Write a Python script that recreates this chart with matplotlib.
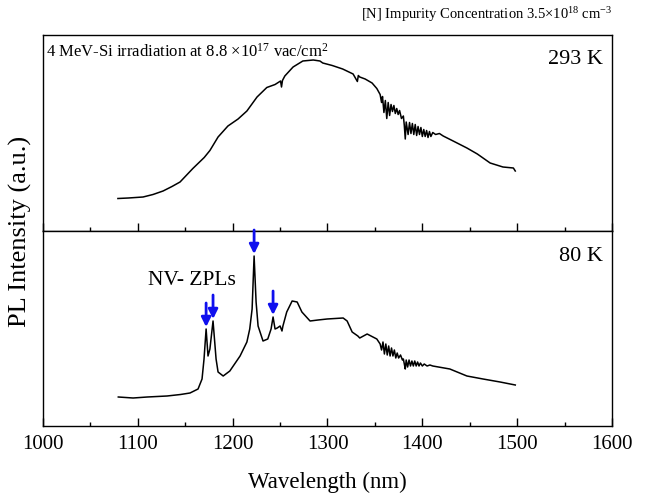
import matplotlib
matplotlib.use("Agg")
import matplotlib.pyplot as plt
from matplotlib.ticker import MultipleLocator

plt.rcParams['font.family'] = ['Liberation Serif', 'DejaVu Serif']
plt.rcParams['mathtext.fontset'] = 'custom'
plt.rcParams['mathtext.rm'] = 'Liberation Serif'
plt.rcParams['mathtext.it'] = 'Liberation Serif:italic'

# ---- 293 K spectrum (top panel) ----
wl_293 = [1079, 1090, 1105.5, 1116, 1126.6, 1136, 1144.5, 1151, 1158, 1164, 1170, 1176, 1184.6,
          1195, 1205.7, 1215, 1225.7, 1236, 1244.7, 1250.5, 1251.5, 1252.5, 1255, 1263.7, 1274, 1285,
          1292, 1295, 1305, 1316, 1327, 1331.5, 1332.5, 1334, 1339.7, 1347, 1352,
          1355.5, 1357, 1358, 1359.5, 1361, 1362.5, 1364, 1365.5, 1367, 1368.5, 1370,
          1371.5, 1373, 1374.5, 1376, 1378, 1380, 1381, 1382, 1383, 1385, 1386.5, 1388,
          1389.5, 1391, 1392.5, 1394, 1395.5, 1397, 1398.5, 1400, 1401.5, 1403, 1404.5,
          1406, 1407.5, 1409, 1411, 1414, 1418, 1422, 1432.5, 1447, 1458, 1471.5, 1485,
          1496, 1497, 1498]
int_293 = [32, 32.5, 33.5, 36, 39.5, 44, 48.5, 55, 62, 67.5, 73, 80, 93.5,
           104.5, 111.5, 119.5, 133.5, 143, 146, 149.5, 143.5, 150, 154.5, 163.5, 169.5, 170.5,
           169.5, 167.5, 165, 161.5, 156.5, 149, 155, 153.5, 151.5, 147.5, 142,
           136, 128, 134, 118, 130, 112, 128, 115, 126, 119, 125,
           117, 122, 116, 120, 112, 114.5, 105, 91.5, 108.5, 96, 108, 97,
           107, 96, 106, 95, 104, 96, 103, 94, 101, 94, 100,
           93, 99, 94, 98, 96, 97, 94.5, 89.5, 82.5, 76.5, 67.5, 63.5,
           62.5, 61, 59.5]

# ---- 80 K spectrum (bottom panel) ----
wl_80 = [1079.4, 1095, 1110, 1130.8, 1145, 1155, 1163.5, 1167.7, 1169.8, 1172, 1174, 1176,
         1179.3, 1182.5, 1184.6, 1190, 1197, 1207.8, 1215, 1218, 1220.5, 1222.6, 1224.7,
         1226.8, 1232, 1237, 1240.5, 1242.6, 1244.7, 1247, 1250, 1252, 1253, 1257, 1262.7,
         1268, 1273, 1281.6, 1290, 1299.6, 1308, 1316.5, 1320.7, 1326, 1332, 1334, 1341.8,
         1352, 1355.5, 1357, 1358.5, 1360, 1361.5, 1363, 1364.5, 1366, 1367.5, 1369,
         1370.5, 1372, 1373.5, 1375, 1377, 1379, 1380, 1381, 1382, 1383, 1384.5, 1386,
         1387.5, 1389, 1390.5, 1392, 1393.5, 1395, 1396.5, 1398, 1400, 1402, 1405, 1408,
         1411, 1429, 1447, 1464, 1482, 1498]
int_80 = [29, 28, 29, 30, 31.5, 33, 37, 47, 67, 97, 70, 77,
          105, 67, 54, 50, 55, 70, 84, 97, 117, 170, 124,
          100, 85, 87, 97, 109, 97, 98, 100, 95, 100, 114, 125,
          124, 114, 105, 106, 107, 107.5, 108, 105, 94, 90, 88, 92,
          87, 82, 76, 84, 72, 82, 71, 80, 70, 78, 70,
          76, 68, 73, 68, 71, 66, 67, 62, 57, 66, 59, 66,
          60, 65, 60, 65, 60, 64, 60, 63, 60, 62, 60, 61,
          60, 57, 50, 47, 44, 41]

# NV- zero-phonon line positions (arrows)
zpl_wl = [1172, 1179.3, 1222.6, 1242.6]
zpl_peak = [97, 105, 170, 109]

x_major = [1000, 1100, 1200, 1300, 1400, 1500, 1600]

fig = plt.figure(figsize=(6.45, 5.02), dpi=100)
L, W = 43 / 645, (612 - 43) / 645
H = (231.5 - 36) / 502
ax_top = fig.add_axes([L, 1 - 231.5 / 502, W, H])
ax_bot = fig.add_axes([L, 1 - 427 / 502, W, H])

for ax in (ax_top, ax_bot):
    ax.set_xlim(1000, 1600)
    ax.set_ylim(0, 195.5)
    ax.set_yticks([])
    ax.xaxis.set_minor_locator(MultipleLocator(50))
    ax.set_xticks(x_major)
    ax.tick_params(axis='x', which='major', direction='in', length=6, width=1.0,
                   top=False, bottom=True)
    ax.tick_params(axis='x', which='minor', direction='in', length=3, width=1.0,
                   top=False, bottom=True)
    for s in ax.spines.values():
        s.set_linewidth(1.0)

ax_top.tick_params(axis='x', which='both', labelbottom=False)
ax_bot.tick_params(axis='x', labelsize=15, pad=6)

ax_top.plot(wl_293, int_293, color='black', lw=1.1)
ax_bot.plot(wl_80, int_80, color='black', lw=1.1)

for w, p in zip(zpl_wl, zpl_peak):
    ax_bot.annotate('', xy=(w, p + 2), xytext=(w, p + 26),
                    arrowprops=dict(arrowstyle='-|>', color='#1010ee', lw=2.0,
                                    mutation_scale=14, shrinkA=0, shrinkB=0))

ax_top.text(0.005, 0.965, '4 MeV-Si irradiation at 8.8 \u00d710$^{17}$ vac/cm$^{2}$',
            transform=ax_top.transAxes, ha='left', va='top', fontsize=12)
ax_top.text(0.985, 0.88, '293 K', transform=ax_top.transAxes, ha='right', va='center',
            fontsize=16)
ax_bot.text(0.985, 0.87, '80 K', transform=ax_bot.transAxes, ha='right', va='center',
            fontsize=16)
ax_bot.text(0.262, 0.75, 'NV- ZPLs', transform=ax_bot.transAxes, ha='center', va='center',
            fontsize=15.5)

fig.text(612 / 645, 1 - 15 / 502, '[N] Impurity Concentration 3.5\u00d710$^{18}$ cm$^{-3}$',
         ha='right', va='center', fontsize=10.5)
fig.text(20 / 645, 1 - 231.5 / 502, 'PL Intensity (a.u.)', rotation=90, ha='center',
         va='center', fontsize=19)
fig.text((43 + 612) / 2 / 645, 1 - 482 / 502, 'Wavelength (nm)', ha='center', va='center',
         fontsize=16.5)

fig.savefig('out.png', dpi=100)
